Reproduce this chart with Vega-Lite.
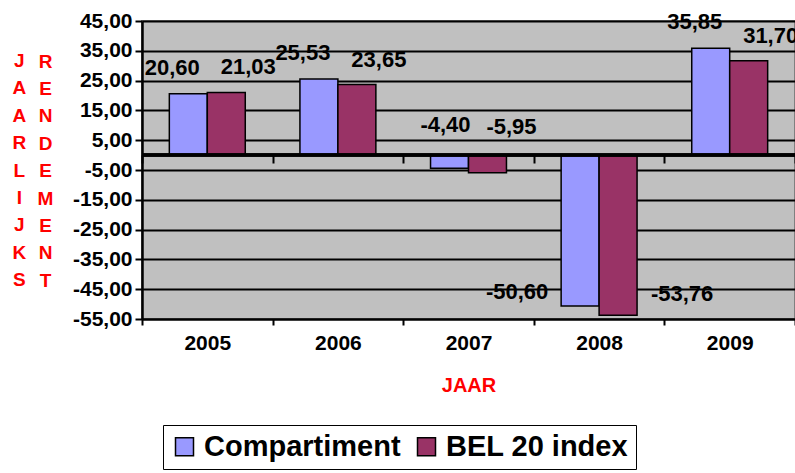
{
  "$schema": "https://vega.github.io/schema/vega-lite/v6.json",
  "width": 653,
  "height": 298,
  "autosize": {"type": "none"},
  "padding": {"left": 142, "top": 21, "right": 0, "bottom": 154},
  "background": "white",
  "config": {
    "locale": {"number": {"decimal": ",", "thousands": ".", "grouping": [3], "currency": ["", " €"], "minus": "-"}},
    "font": "Liberation Sans",
    "view": {"fill": "#C0C0C0", "stroke": "#808080", "strokeWidth": 2}
  },
  "title": {
    "text": ["J", "A", "A", "R", "L", "I", "J", "K", "S"],
    "orient": "left",
    "anchor": "middle",
    "angle": 0,
    "align": "center",
    "baseline": "middle",
    "lineHeight": 27.4,
    "fontSize": 19,
    "fontWeight": "bold",
    "color": "#FF0000",
    "font": "Liberation Sans",
    "offset": 4,
    "dy": -109
  },
  "data": {
    "values": [
      {"year": "2005", "series": "Compartiment", "value": 20.60},
      {"year": "2005", "series": "BEL 20 index", "value": 21.03},
      {"year": "2006", "series": "Compartiment", "value": 25.53},
      {"year": "2006", "series": "BEL 20 index", "value": 23.65},
      {"year": "2007", "series": "Compartiment", "value": -4.40},
      {"year": "2007", "series": "BEL 20 index", "value": -5.95},
      {"year": "2008", "series": "Compartiment", "value": -50.60},
      {"year": "2008", "series": "BEL 20 index", "value": -53.76},
      {"year": "2009", "series": "Compartiment", "value": 35.85},
      {"year": "2009", "series": "BEL 20 index", "value": 31.70}
    ]
  },
  "resolve": {"axis": {"x": "independent"}},
  "layer": [
    {
      "mark": {"type": "bar", "stroke": "black", "strokeWidth": 1.5},
      "encoding": {
        "x": {
          "field": "year", "type": "nominal",
          "scale": {"paddingInner": 0, "paddingOuter": 0},
          "axis": {
            "orient": "bottom",
            "tickBand": "extent",
            "labelAngle": 0,
            "labelFont": "Liberation Sans", "labelFontWeight": "bold", "labelFontSize": 21, "labelColor": "black",
            "labelPadding": 7,
            "domainColor": "black", "domainWidth": 2,
            "tickColor": "black", "tickWidth": 2, "tickSize": 6,
            "title": "JAAR",
            "titleFont": "Liberation Sans", "titleFontWeight": "bold", "titleFontSize": 20, "titleColor": "#FF0000",
            "titlePadding": 22,
            "grid": false
          }
        },
        "xOffset": {
          "field": "series", "type": "nominal",
          "sort": ["Compartiment", "BEL 20 index"],
          "scale": {"paddingInner": 0, "paddingOuter": 0.72}
        },
        "y": {
          "field": "value", "type": "quantitative",
          "scale": {"domain": [-55, 45], "nice": false, "zero": false},
          "axis": {
            "values": [-55, -45, -35, -25, -15, -5, 5, 15, 25, 35, 45],
            "tickCount": 20,
            "format": ".2f",
            "labelOverlap": false,
            "labelFont": "Liberation Sans", "labelFontWeight": "bold", "labelFontSize": 21, "labelColor": "black",
            "labelPadding": 3,
            "domainColor": "black", "domainWidth": 2.5,
            "tickColor": "black", "tickWidth": 2, "tickSize": 7,
            "grid": true, "gridColor": "black", "gridWidth": 2,
            "title": ["R", "E", "N", "D", "E", "M", "E", "N", "T"],
            "titleAngle": 0,
            "titleAlign": "center",
            "titleBaseline": "middle",
            "titleX": -97,
            "titleY": 40,
            "titleLineHeight": 27.4,
            "titleFont": "Liberation Sans", "titleFontWeight": "bold", "titleFontSize": 19, "titleColor": "#FF0000"
          }
        },
        "color": {
          "field": "series", "type": "nominal",
          "scale": {"domain": ["Compartiment", "BEL 20 index"], "range": ["#9999FF", "#993366"]},
          "legend": {
            "orient": "none", "legendX": 21, "legendY": 404,
            "direction": "horizontal",
            "title": null,
            "labelFont": "Liberation Sans", "labelFontWeight": "bold", "labelFontSize": 29, "labelColor": "black",
            "labelLimit": 0,
            "symbolType": "square", "symbolSize": 324, "symbolStrokeColor": "black", "symbolStrokeWidth": 1.5, "symbolOpacity": 1,
            "strokeColor": "black", "fillColor": "white", "padding": 7,
            "columnPadding": 11, "labelOffset": 5
          }
        }
      }
    },
    {
      "mark": {"type": "rule", "color": "black", "strokeWidth": 2.5},
      "encoding": {"y": {"datum": 0, "type": "quantitative"}}
    },
    {
      "transform": [{"filter": "datum.value > 0 && datum.series == 'Compartiment'"}],
      "mark": {"type": "text", "font": "Liberation Sans", "fontWeight": "bold", "fontSize": 22, "color": "black", "baseline": "middle", "align": "center", "dx": -16, "dy": -26},
      "encoding": {
        "x": {"field": "year", "type": "nominal", "axis": {"orient": "top", "offset": -134, "labels": false, "domain": false, "ticks": true, "tickBand": "extent", "tickSize": -8, "tickColor": "black", "tickWidth": 2, "title": null, "grid": false}},
        "xOffset": {"field": "series", "type": "nominal", "sort": ["Compartiment", "BEL 20 index"]},
        "y": {"field": "value", "type": "quantitative"},
        "text": {"field": "value", "type": "quantitative", "format": ".2f"}
      }
    },
    {
      "transform": [{"filter": "datum.value > 0 && datum.series == 'BEL 20 index'"}],
      "mark": {"type": "text", "font": "Liberation Sans", "fontWeight": "bold", "fontSize": 22, "color": "black", "baseline": "middle", "align": "center", "dx": 22, "dy": -25},
      "encoding": {
        "x": {"field": "year", "type": "nominal", "axis": null},
        "xOffset": {"field": "series", "type": "nominal", "sort": ["Compartiment", "BEL 20 index"]},
        "y": {"field": "value", "type": "quantitative"},
        "text": {"field": "value", "type": "quantitative", "format": ".2f"}
      }
    },
    {
      "transform": [{"filter": "datum.year == '2007' && datum.series == 'Compartiment'"}],
      "mark": {"type": "text", "font": "Liberation Sans", "fontWeight": "bold", "fontSize": 22, "color": "black", "baseline": "middle", "align": "center", "dx": -4, "dy": -43},
      "encoding": {
        "x": {"field": "year", "type": "nominal", "axis": null},
        "xOffset": {"field": "series", "type": "nominal", "sort": ["Compartiment", "BEL 20 index"]},
        "y": {"field": "value", "type": "quantitative"},
        "text": {"field": "value", "type": "quantitative", "format": ".2f"}
      }
    },
    {
      "transform": [{"filter": "datum.year == '2007' && datum.series == 'BEL 20 index'"}],
      "mark": {"type": "text", "font": "Liberation Sans", "fontWeight": "bold", "fontSize": 22, "color": "black", "baseline": "middle", "align": "center", "dx": 24, "dy": -46},
      "encoding": {
        "x": {"field": "year", "type": "nominal", "axis": null},
        "xOffset": {"field": "series", "type": "nominal", "sort": ["Compartiment", "BEL 20 index"]},
        "y": {"field": "value", "type": "quantitative"},
        "text": {"field": "value", "type": "quantitative", "format": ".2f"}
      }
    },
    {
      "transform": [{"filter": "datum.year == '2008' && datum.series == 'Compartiment'"}],
      "mark": {"type": "text", "font": "Liberation Sans", "fontWeight": "bold", "fontSize": 22, "color": "black", "baseline": "middle", "align": "center", "dx": -63, "dy": -14},
      "encoding": {
        "x": {"field": "year", "type": "nominal", "axis": null},
        "xOffset": {"field": "series", "type": "nominal", "sort": ["Compartiment", "BEL 20 index"]},
        "y": {"field": "value", "type": "quantitative"},
        "text": {"field": "value", "type": "quantitative", "format": ".2f"}
      }
    },
    {
      "transform": [{"filter": "datum.year == '2008' && datum.series == 'BEL 20 index'"}],
      "mark": {"type": "text", "font": "Liberation Sans", "fontWeight": "bold", "fontSize": 22, "color": "black", "baseline": "middle", "align": "center", "dx": 64, "dy": -21},
      "encoding": {
        "x": {"field": "year", "type": "nominal", "axis": null},
        "xOffset": {"field": "series", "type": "nominal", "sort": ["Compartiment", "BEL 20 index"]},
        "y": {"field": "value", "type": "quantitative"},
        "text": {"field": "value", "type": "quantitative", "format": ".2f"}
      }
    }
  ]
}
